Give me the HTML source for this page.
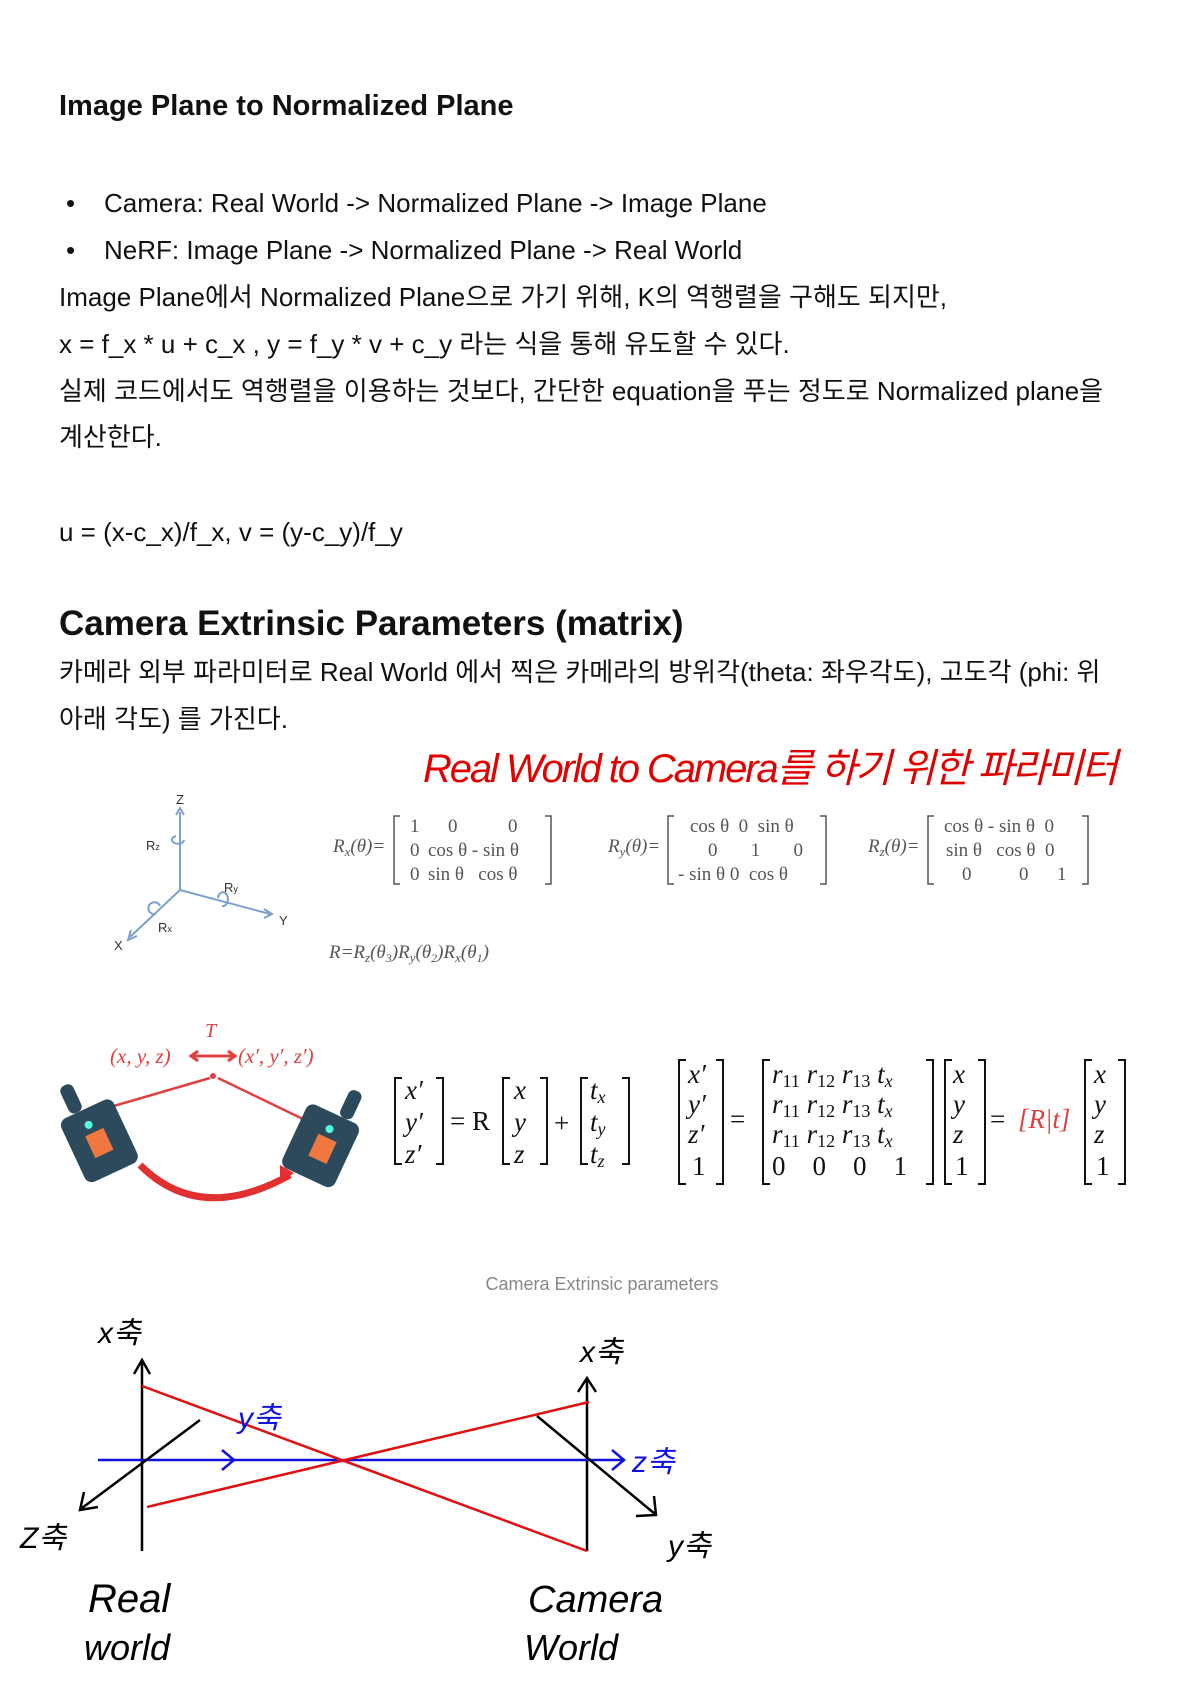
<!DOCTYPE html>
<html><head><meta charset="utf-8">
<style>
body{margin:0;background:#fff;}
#page{position:relative;width:1200px;height:1702px;overflow:hidden;background:#fff;font-family:"Liberation Sans","Noto Sans CJK KR",sans-serif;color:#111;}
.t{position:absolute;white-space:nowrap;font-size:26px;line-height:1;}
.h1{font-weight:bold;font-size:29px;}
.h2{font-weight:bold;font-size:35px;}
svg{position:absolute;left:0;top:0;}
svg text{white-space:pre;}
</style></head><body>
<div id="page">
<div class="t h1" style="left:59px;top:92px">Image Plane to Normalized Plane</div>
<div class="t" style="left:66px;top:190px">•</div>
<div class="t" style="left:104px;top:190px">Camera: Real World -&gt; Normalized Plane -&gt; Image Plane</div>
<div class="t" style="left:66px;top:237px">•</div>
<div class="t" style="left:104px;top:237px">NeRF: Image Plane -&gt; Normalized Plane -&gt; Real World</div>
<div class="t" style="left:59px;top:284px">Image Plane에서 Normalized Plane으로 가기 위해, K의 역행렬을 구해도 되지만,</div>
<div class="t" style="left:59px;top:331px">x = f_x * u + c_x , y = f_y * v + c_y 라는 식을 통해 유도할 수 있다.</div>
<div class="t" style="left:59px;top:378px">실제 코드에서도 역행렬을 이용하는 것보다, 간단한 equation을 푸는 정도로 Normalized plane을</div>
<div class="t" style="left:59px;top:424px">계산한다.</div>
<div class="t" style="left:59px;top:519px">u = (x-c_x)/f_x, v = (y-c_y)/f_y</div>
<div class="t h2" style="left:59px;top:606px">Camera Extrinsic Parameters (matrix)</div>
<div class="t" style="left:59px;top:659px">카메라 외부 파라미터로 Real World 에서 찍은 카메라의 방위각(theta: 좌우각도), 고도각 (phi: 위</div>
<div class="t" style="left:59px;top:706px">아래 각도) 를 가진다.</div>

<svg width="1200" height="1702">
<text x="423" y="782" font-size="40" fill="#e00000" font-family="Liberation Sans, Noto Sans CJK KR, sans-serif" font-style="italic" textLength="695">Real World to Camera를 하기 위한 파라미터</text>
<g stroke="#7fa0cc" stroke-width="2" fill="none">
<line x1="180" y1="890" x2="180" y2="812"/><line x1="180" y1="890" x2="270" y2="914"/><line x1="180" y1="890" x2="130" y2="937"/>
<path d="M176 815 L180 808 L184 815"/><path d="M264 909 L272 914 L264 918"/><path d="M131 930 L128 940 L137 936"/>
<path d="M176 836 a6 4 0 1 0 8 4"/><path d="M218 898 a5 7 0 1 1 4 8"/><path d="M160 906 a6 6 0 1 0 -4 8"/>
</g>
<g font-size="13" fill="#333" font-family="Liberation Sans, sans-serif">
<text x="176" y="804">Z</text><text x="279" y="925">Y</text><text x="114" y="950">X</text>
<text x="146" y="850">R<tspan font-size="9">z</tspan></text><text x="224" y="892">R<tspan font-size="9">y</tspan></text><text x="158" y="932">R<tspan font-size="9">x</tspan></text>
</g>
<g font-family="Liberation Serif, serif" font-size="19" fill="#555">
<text x="333" y="852" font-style="italic">R<tspan font-size="13" dy="4">x</tspan><tspan dy="-4">(θ)=</tspan></text>
<path d="M400 816 h-6 v68 h6 M545 816 h6 v68 h-6" stroke="#555" fill="none" stroke-width="1.5"/>
<text x="410" y="832">1</text><text x="448" y="832">0</text><text x="508" y="832">0</text>
<text x="410" y="856">0</text><text x="428" y="856">cos θ - sin θ</text>
<text x="410" y="880">0</text><text x="428" y="880">sin θ   cos θ</text>
<text x="608" y="852" font-style="italic">R<tspan font-size="13" dy="4">y</tspan><tspan dy="-4">(θ)=</tspan></text>
<path d="M674 816 h-6 v68 h6 M820 816 h6 v68 h-6" stroke="#555" fill="none" stroke-width="1.5"/>
<text x="690" y="832">cos θ  0  sin θ</text><text x="708" y="856">0       1       0</text><text x="678" y="880">- sin θ 0  cos θ</text>
<text x="868" y="852" font-style="italic">R<tspan font-size="13" dy="4">z</tspan><tspan dy="-4">(θ)=</tspan></text>
<path d="M934 816 h-6 v68 h6 M1082 816 h6 v68 h-6" stroke="#555" fill="none" stroke-width="1.5"/>
<text x="944" y="832">cos θ - sin θ  0</text><text x="946" y="856">sin θ   cos θ  0</text><text x="962" y="880">0          0      1</text>
<text x="329" y="958" font-style="italic">R=R<tspan font-size="13" dy="4">z</tspan><tspan dy="-4">(θ</tspan><tspan font-size="12" dy="4">3</tspan><tspan dy="-4">)R</tspan><tspan font-size="13" dy="4">y</tspan><tspan dy="-4">(θ</tspan><tspan font-size="12" dy="4">2</tspan><tspan dy="-4">)R</tspan><tspan font-size="13" dy="4">x</tspan><tspan dy="-4">(θ</tspan><tspan font-size="12" dy="4">1</tspan><tspan dy="-4">)</tspan></text>
</g>
<g>
<text x="205" y="1037" font-family="Liberation Serif, serif" font-style="italic" font-size="20" fill="#e04040">T</text>
<text x="110" y="1063" font-family="Liberation Serif, serif" font-style="italic" font-size="21" fill="#e04040">(x, y, z)</text>
<text x="238" y="1063" font-family="Liberation Serif, serif" font-style="italic" font-size="21" fill="#e04040">(x′, y′, z′)</text>
<path d="M192 1056 h42 M198 1051 l-7 5 7 5 M228 1051 l7 5 -7 5" stroke="#e04040" stroke-width="3" fill="none"/>
<circle cx="213" cy="1076" r="3" fill="#e04040"/>
<path d="M100 1110 L210 1078 M218 1078 L305 1120" stroke="#e04040" stroke-width="2.5" fill="none"/>
<path d="M140 1165 Q200 1225 290 1175" stroke="#e03030" stroke-width="7" fill="none"/>
<path d="M280 1165 l14 8 -14 10z" fill="#e03030"/>
<g transform="translate(100 1135) rotate(-25)"><rect x="-32" y="-30" width="58" height="70" rx="8" fill="#2c4a5c"/><rect x="-14" y="-5" width="20" height="24" fill="#f07840"/><circle cx="-6" cy="-14" r="4" fill="#5fd"/><rect x="-18" y="-60" width="14" height="30" rx="6" fill="#2c4a5c"/></g>
<g transform="translate(320 1140) rotate(25)"><rect x="-26" y="-30" width="58" height="70" rx="8" fill="#2c4a5c"/><rect x="-4" y="-5" width="20" height="24" fill="#f07840"/><circle cx="4" cy="-14" r="4" fill="#5fd"/><rect x="6" y="-60" width="14" height="30" rx="6" fill="#2c4a5c"/></g>
</g>
<g font-family="Liberation Serif, serif" font-size="27" fill="#111" font-style="italic">
<path d="M402 1078 h-7 v86 h7 M436 1078 h7 v86 h-7" stroke="#111" fill="none" stroke-width="2"/>
<text x="405" y="1099">x′</text><text x="405" y="1131">y′</text><text x="405" y="1163">z′</text>
<text x="450" y="1130" font-style="normal">= R</text>
<path d="M510 1078 h-7 v86 h7 M540 1078 h7 v86 h-7" stroke="#111" fill="none" stroke-width="2"/>
<text x="514" y="1099">x</text><text x="514" y="1131">y</text><text x="514" y="1163">z</text>
<text x="554" y="1132" font-style="normal">+</text>
<path d="M588 1078 h-7 v86 h7 M622 1078 h7 v86 h-7" stroke="#111" fill="none" stroke-width="2"/>
<text x="590" y="1099">t<tspan font-size="18" dy="4">x</tspan></text><text x="590" y="1131">t<tspan font-size="18" dy="4">y</tspan></text><text x="590" y="1163">t<tspan font-size="18" dy="4">z</tspan></text>
<path d="M686 1060 h-7 v124 h7 M716 1060 h7 v124 h-7" stroke="#111" fill="none" stroke-width="2"/>
<text x="688" y="1083">x′</text><text x="688" y="1113">y′</text><text x="688" y="1143">z′</text><text x="692" y="1175" font-style="normal">1</text>
<text x="730" y="1128" font-style="normal">=</text>
<path d="M770 1060 h-7 v124 h7 M926 1060 h7 v124 h-7" stroke="#111" fill="none" stroke-width="2"/>
<text x="772" y="1083">r<tspan font-size="18" dy="4" font-style="normal">11</tspan><tspan dy="-4"> r</tspan><tspan font-size="18" dy="4" font-style="normal">12</tspan><tspan dy="-4"> r</tspan><tspan font-size="18" dy="4" font-style="normal">13</tspan><tspan dy="-4"> t</tspan><tspan font-size="18" dy="4">x</tspan></text>
<text x="772" y="1113">r<tspan font-size="18" dy="4" font-style="normal">11</tspan><tspan dy="-4"> r</tspan><tspan font-size="18" dy="4" font-style="normal">12</tspan><tspan dy="-4"> r</tspan><tspan font-size="18" dy="4" font-style="normal">13</tspan><tspan dy="-4"> t</tspan><tspan font-size="18" dy="4">x</tspan></text>
<text x="772" y="1143">r<tspan font-size="18" dy="4" font-style="normal">11</tspan><tspan dy="-4"> r</tspan><tspan font-size="18" dy="4" font-style="normal">12</tspan><tspan dy="-4"> r</tspan><tspan font-size="18" dy="4" font-style="normal">13</tspan><tspan dy="-4"> t</tspan><tspan font-size="18" dy="4">x</tspan></text>
<text x="772" y="1175" font-style="normal">0    0    0    1</text>
<path d="M952 1060 h-7 v124 h7 M978 1060 h7 v124 h-7" stroke="#111" fill="none" stroke-width="2"/>
<text x="953" y="1083">x</text><text x="953" y="1113">y</text><text x="953" y="1143">z</text><text x="955" y="1175" font-style="normal">1</text>
<text x="990" y="1128" font-style="normal">=</text>
<text x="1018" y="1128" fill="#e04040">[R|t]</text>
<path d="M1092 1060 h-7 v124 h7 M1118 1060 h7 v124 h-7" stroke="#111" fill="none" stroke-width="2"/>
<text x="1094" y="1083">x</text><text x="1094" y="1113">y</text><text x="1094" y="1143">z</text><text x="1096" y="1175" font-style="normal">1</text>
</g>
<text x="602" y="1290" text-anchor="middle" font-size="18" fill="#888" font-family="Liberation Sans, sans-serif">Camera Extrinsic parameters</text>
<g fill="none" stroke-width="2.5">
<line x1="142" y1="1362" x2="142" y2="1551" stroke="#000"/><path d="M134 1374 L142 1360 L150 1374" stroke="#000"/>
<line x1="587" y1="1379" x2="587" y2="1551" stroke="#000"/><path d="M578 1392 L587 1378 L596 1392" stroke="#000"/>
<line x1="98" y1="1460" x2="622" y2="1460" stroke="#1010e0"/><path d="M222 1450 L234 1460 L222 1470 M612 1450 L624 1460 L612 1470" stroke="#1010e0"/>
<line x1="142" y1="1386" x2="587" y2="1551" stroke="#e01010"/>
<line x1="147" y1="1507" x2="589" y2="1402" stroke="#e01010"/>
<line x1="200" y1="1420" x2="82" y2="1508" stroke="#000"/><path d="M84 1492 L80 1510 L98 1507" stroke="#000"/>
<line x1="537" y1="1416" x2="655" y2="1514" stroke="#000"/><path d="M654 1496 L656 1515 L636 1516" stroke="#000"/>
</g>
<g font-family="Liberation Sans, Noto Sans CJK KR, sans-serif" font-size="30" font-style="italic">
<text x="98" y="1343" fill="#000">x축</text><text x="20" y="1548" fill="#000">Z축</text>
<text x="238" y="1428" fill="#1010e0">y축</text><text x="580" y="1362" fill="#000">x축</text>
<text x="632" y="1472" fill="#1010e0">z축</text><text x="668" y="1556" fill="#000">y축</text>
<text x="88" y="1612" font-size="40" fill="#000">Real</text><text x="84" y="1660" font-size="36" fill="#000">world</text>
<text x="528" y="1612" font-size="38" fill="#000">Camera</text><text x="524" y="1660" font-size="36" fill="#000">World</text>
</g>
</svg>
</div>
</body></html>
